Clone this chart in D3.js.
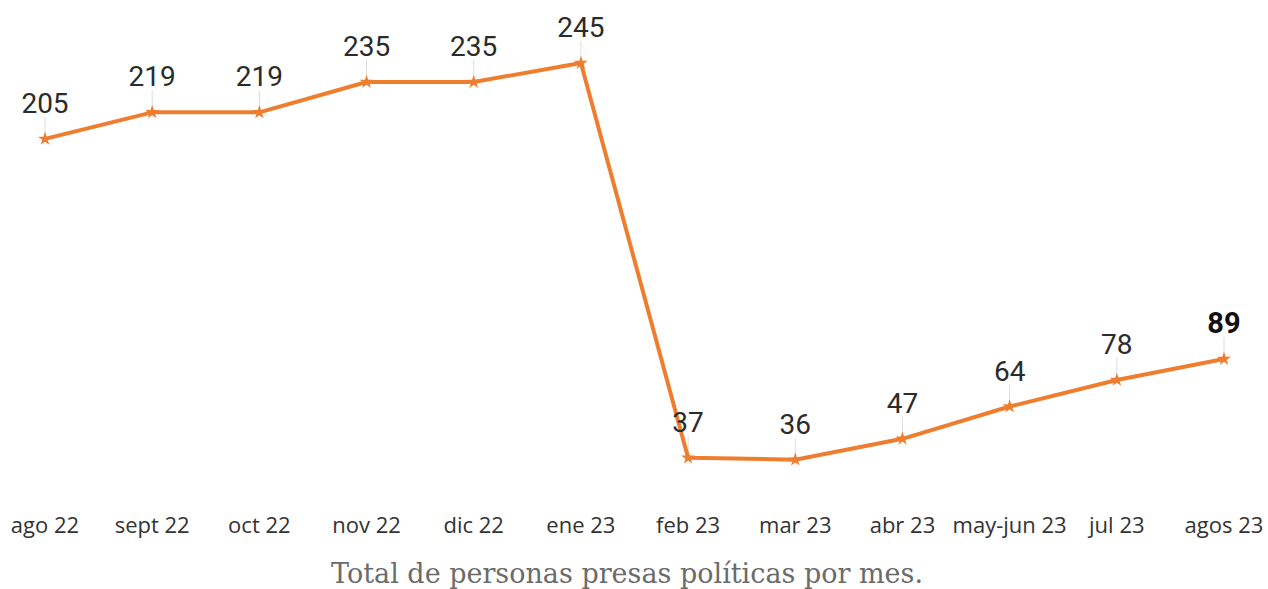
<!DOCTYPE html>
<html>
<head>
<meta charset="utf-8">
<script src="https://cdn.jsdelivr.net/npm/d3@7"></script>
<style>
  html, body { margin: 0; padding: 0; background: #fff; }
  #chart { width: 1268px; height: 589px; }
  .val { font-family: Roboto, sans-serif; font-size: 28px; fill: #2b2b2b; text-anchor: middle; }
  .val.last { font-weight: 700; fill: #111; font-size: 29px; }
  .xlab { font-family: "Open Sans", sans-serif; font-size: 22px; fill: #333; text-anchor: middle; }
  .caption { font-family: "DejaVu Serif", serif; font-size: 27px; fill: #6b6b6b; text-anchor: middle; }
</style>
</head>
<body>
<div id="chart"></div>
<script>
// --- Data ---
const months = ['ago 22', 'sept 22', 'oct 22', 'nov 22', 'dic 22', 'ene 23',
                'feb 23', 'mar 23', 'abr 23', 'may-jun 23', 'jul 23', 'agos 23'];
const prisoners = [205, 219, 219, 235, 235, 245, 37, 36, 47, 64, 78, 89];
const captionText = 'Total de personas presas políticas por mes.';

const W = 1268, H = 589;
const svg = d3.select('#chart').append('svg')
    .attr('width', W)
    .attr('height', H);

// --- Scales ---
const x = d3.scalePoint().domain(months).range([45, 1224]);
const y = d3.scaleLinear().domain([0, 245]).range([528, 63]);

// --- Leader lines from labels ---
svg.selectAll('.lead')
    .data(prisoners)
    .enter().append('line')
    .attr('x1', (d, i) => x(months[i]))
    .attr('x2', (d, i) => x(months[i]))
    .attr('y1', d => y(d) - 22)
    .attr('y2', d => y(d))
    .attr('stroke', '#dcdcdc')
    .attr('stroke-width', 1);

// --- Line ---
const line = d3.line()
    .x((d, i) => x(months[i]))
    .y(d => y(d));

svg.append('path')
    .datum(prisoners)
    .attr('d', line)
    .attr('fill', 'none')
    .attr('stroke', '#ee7d2e')
    .attr('stroke-width', 4)
    .attr('stroke-linejoin', 'round');

// --- Star markers ---
const star = d3.symbol().type(d3.symbolStar).size(60);
svg.selectAll('.mark')
    .data(prisoners)
    .enter().append('path')
    .attr('transform', (d, i) => `translate(${x(months[i])},${y(d)})`)
    .attr('d', star)
    .attr('fill', '#ee7d2e');

// --- Value labels ---
svg.selectAll('.val')
    .data(prisoners)
    .enter().append('text')
    .attr('class', (d, i) => i === prisoners.length - 1 ? 'val last' : 'val')
    .attr('x', (d, i) => x(months[i]))
    .attr('y', d => y(d) - 26)
    .text(d => d);

// --- X labels ---
svg.selectAll('.xlab')
    .data(months)
    .enter().append('text')
    .attr('class', 'xlab')
    .attr('x', d => x(d))
    .attr('y', 533)
    .text(d => d);

// --- Caption ---
svg.append('text')
    .attr('class', 'caption')
    .attr('x', 627)
    .attr('y', 583)
    .text(captionText);
</script>
</body>
</html>
